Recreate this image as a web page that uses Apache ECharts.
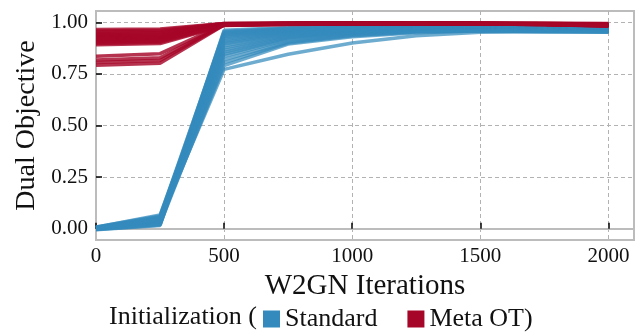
<!DOCTYPE html>
<html>
<head>
<meta charset="utf-8">
<script src="https://cdn.jsdelivr.net/npm/echarts@6/dist/echarts.min.js"></script>
<style>html,body{margin:0;padding:0;background:#fff}#c{width:635px;height:333px}</style>
</head>
<body>
<div id="c"></div>
<script>
// W2GN iterations (x values)
const iterations = [0, 250, 500, 750, 1000, 1250, 1500, 1750, 2000];
const xTicks = [0, 500, 1000, 1500, 2000];
const yTicks = [0, 0.25, 0.5, 0.75, 1.0];

// Standard initialization runs (dual objective per iteration)
const standardRuns = [
  [0.000, 0.030, 0.962, 0.975, 0.978, 0.978, 0.977, 0.975, 0.972],
  [0.005, 0.050, 0.957, 0.972, 0.976, 0.977, 0.976, 0.974, 0.970],
  [-0.003, 0.020, 0.952, 0.970, 0.975, 0.976, 0.975, 0.973, 0.969],
  [0.008, 0.062, 0.947, 0.968, 0.974, 0.975, 0.975, 0.972, 0.968],
  [0.002, 0.040, 0.942, 0.965, 0.972, 0.974, 0.974, 0.971, 0.967],
  [-0.005, 0.015, 0.937, 0.963, 0.971, 0.973, 0.973, 0.970, 0.966],
  [0.006, 0.055, 0.931, 0.960, 0.970, 0.972, 0.972, 0.969, 0.965],
  [0.001, 0.035, 0.925, 0.958, 0.968, 0.971, 0.971, 0.968, 0.964],
  [0.004, 0.045, 0.918, 0.955, 0.966, 0.970, 0.970, 0.967, 0.963],
  [-0.002, 0.025, 0.910, 0.952, 0.964, 0.969, 0.969, 0.966, 0.962],
  [0.007, 0.066, 0.902, 0.948, 0.962, 0.967, 0.968, 0.965, 0.961],
  [0.003, 0.038, 0.895, 0.945, 0.960, 0.966, 0.967, 0.964, 0.960],
  [0.000, 0.028, 0.885, 0.940, 0.958, 0.965, 0.966, 0.963, 0.959],
  [0.005, 0.052, 0.875, 0.935, 0.955, 0.963, 0.965, 0.962, 0.958],
  [-0.004, 0.018, 0.865, 0.930, 0.952, 0.962, 0.964, 0.961, 0.957],
  [0.002, 0.042, 0.855, 0.925, 0.950, 0.960, 0.963, 0.960, 0.956],
  [0.006, 0.058, 0.845, 0.920, 0.947, 0.958, 0.962, 0.959, 0.956],
  [0.001, 0.032, 0.835, 0.915, 0.944, 0.957, 0.961, 0.958, 0.955],
  [0.004, 0.048, 0.820, 0.905, 0.938, 0.955, 0.960, 0.957, 0.955],
  [-0.001, 0.022, 0.805, 0.900, 0.935, 0.953, 0.959, 0.956, 0.954],
  [0.003, 0.036, 0.790, 0.895, 0.930, 0.950, 0.958, 0.956, 0.954],
  [0.002, 0.044, 0.772, 0.845, 0.900, 0.935, 0.952, 0.955, 0.953]
];

// Meta OT initialization runs
const metaRuns = [
  [0.965, 0.968, 0.995, 0.997, 0.998, 0.998, 0.997, 0.996, 0.994],
  [0.958, 0.962, 0.994, 0.996, 0.997, 0.997, 0.996, 0.995, 0.993],
  [0.952, 0.955, 0.993, 0.996, 0.997, 0.997, 0.996, 0.994, 0.992],
  [0.945, 0.949, 0.992, 0.995, 0.996, 0.996, 0.995, 0.994, 0.991],
  [0.940, 0.944, 0.992, 0.995, 0.996, 0.996, 0.995, 0.993, 0.990],
  [0.935, 0.938, 0.991, 0.994, 0.995, 0.996, 0.995, 0.993, 0.989],
  [0.930, 0.933, 0.990, 0.994, 0.995, 0.995, 0.994, 0.992, 0.988],
  [0.925, 0.928, 0.990, 0.993, 0.995, 0.995, 0.994, 0.992, 0.987],
  [0.920, 0.924, 0.989, 0.993, 0.994, 0.995, 0.994, 0.991, 0.986],
  [0.915, 0.919, 0.988, 0.992, 0.994, 0.994, 0.993, 0.991, 0.985],
  [0.910, 0.914, 0.988, 0.992, 0.993, 0.994, 0.993, 0.990, 0.984],
  [0.905, 0.909, 0.987, 0.991, 0.993, 0.993, 0.992, 0.990, 0.983],
  [0.898, 0.903, 0.986, 0.991, 0.992, 0.993, 0.992, 0.989, 0.982],
  [0.892, 0.897, 0.985, 0.990, 0.992, 0.993, 0.992, 0.989, 0.981],
  [0.836, 0.848, 0.990, 0.994, 0.995, 0.995, 0.994, 0.992, 0.988],
  [0.818, 0.828, 0.989, 0.993, 0.994, 0.995, 0.994, 0.991, 0.987],
  [0.805, 0.815, 0.988, 0.993, 0.994, 0.994, 0.993, 0.991, 0.986],
  [0.792, 0.802, 0.987, 0.992, 0.993, 0.994, 0.993, 0.990, 0.985]
];

const groupNames = ['Standard', 'Meta OT'];
const groupColors = ['#348ABD', '#A60628'];
const groupOpacity = [0.72, 0.82];

const serif = 'Liberation Serif';

function makeSeries(runs, name, color, op) {
  return runs.map(r => ({
    type: 'line',
    name: name,
    data: r.map((v, i) => [iterations[i], v]),
    showSymbol: false,
    symbol: 'none',
    silent: true,
    animation: false,
    color: color,
    lineStyle: { width: 3.5, color: color, opacity: op }
  }));
}

const chart = echarts.init(document.getElementById('c'), null, { renderer: 'canvas' });
chart.setOption({
  backgroundColor: '#fff',
  animation: false,
  title: {
    text: 'Initialization (',
    left: 104, top: 299,
    textStyle: { fontFamily: serif, fontSize: 26, fontWeight: 'normal', color: '#111' }
  },
  legend: {
    left: 258, top: 301,
    icon: 'rect', itemWidth: 17, itemHeight: 17, itemGap: 30,
    textStyle: { fontFamily: serif, fontSize: 26, color: '#111' },
    formatter: n => n === 'Meta OT' ? 'Meta OT)' : n,
    data: groupNames.map((n, i) => ({ name: n, itemStyle: { color: groupColors[i], opacity: 1 } }))
  },
  grid: { left: 96, right: 1, top: 11, bottom: 93, show: true, borderColor: '#bcbcbc', borderWidth: 2 },
  xAxis: {
    type: 'value', min: 0, max: 2100, interval: 500,
    name: 'W2GN Iterations', nameLocation: 'middle', nameGap: 30,
    nameTextStyle: { fontFamily: serif, fontSize: 29, color: '#111' },
    axisLine: { show: true, lineStyle: { color: '#bcbcbc', width: 2 } },
    axisTick: { show: true, inside: true, length: 6, lineStyle: { color: '#000', width: 1.5 }, customValues: xTicks },
    axisLabel: { fontFamily: serif, fontSize: 21, color: '#111', margin: 6, customValues: xTicks, formatter: v => String(v) },
    splitLine: { show: true, lineStyle: { color: '#b2b2b2', type: [4, 3], width: 1 } }
  },
  yAxis: {
    type: 'value', min: -0.055, max: 1.055,
    name: 'Dual Objective', nameLocation: 'middle', nameGap: 54,
    nameTextStyle: { fontFamily: serif, fontSize: 28, color: '#111' },
    axisLine: { show: true, lineStyle: { color: '#bcbcbc', width: 2 } },
    axisTick: { show: true, inside: true, length: 6, lineStyle: { color: '#000', width: 1.5 }, customValues: yTicks },
    axisLabel: { fontFamily: serif, fontSize: 21, color: '#111', margin: 8, customValues: yTicks, formatter: v => v.toFixed(2) },
    splitLine: { show: true, lineStyle: { color: '#b2b2b2', type: [4, 3], width: 1 } }
  },
  series: [].concat(
    makeSeries(standardRuns, groupNames[0], groupColors[0], groupOpacity[0]),
    makeSeries(metaRuns, groupNames[1], groupColors[1], groupOpacity[1])
  )
});
</script>
</body>
</html>
